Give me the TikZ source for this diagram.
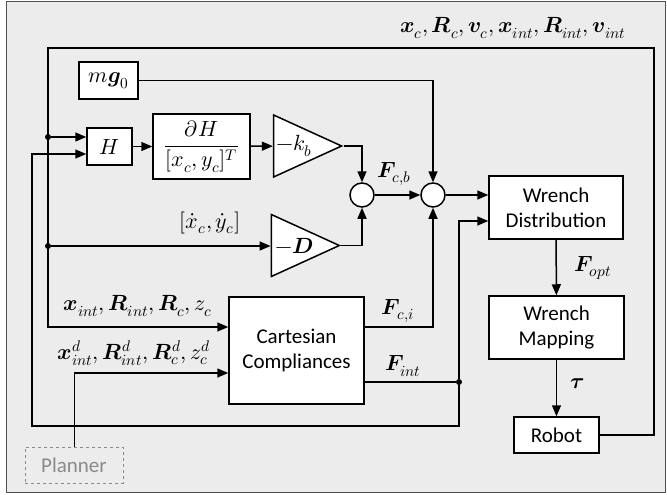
\documentclass[tikz,border=0pt]{standalone}
\usepackage{amsmath}
\usepackage{fontspec}
\usepackage{unicode-math}
\setmainfont{Carlito}
\setmathfont{Latin Modern Math}
\usepackage{xcolor}
\usepackage{tikz}
\usetikzlibrary{shapes.geometric, arrows.meta, positioning}

\definecolor{bgcol}{HTML}{ECECEC}
\definecolor{framecol}{HTML}{505050}
\definecolor{plannercol}{HTML}{8A8A8A}

\begin{document}
\begin{tikzpicture}[
    x=1pt, y=-1pt,
    font=\fontsize{21}{25}\selectfont,
    mathfont/.style={font=\fontsize{22}{25}\selectfont},
    box/.style={rectangle, draw=black, fill=white, line width=1.5pt, align=center, inner sep=2pt},
    gain/.style={isosceles triangle, isosceles triangle stretches, shape border rotate=0, draw=black, fill=white, line width=1.5pt, inner sep=1pt, minimum width=62pt, minimum height=68pt, mathfont},
    sumnode/.style={circle, draw=black, fill=white, line width=1.5pt, minimum size=24pt, inner sep=0pt},
    dot/.style={circle, fill=black, inner sep=0pt, minimum size=6pt},
    arrow/.style={-{Triangle[length=11pt,width=9pt]}, line width=1.5pt},
    line/.style={line width=1.5pt}
]

\useasboundingbox (0,0) rectangle (667,495);
\draw[fill=bgcol, draw=framecol, line width=1pt] (6,2) rectangle (665,492);

% blocks
\node[box, mathfont, minimum width=59pt, minimum height=37pt] (mg) at (108.5,80.5) {$m\symbfit{g}_0$};
\node[box, mathfont, minimum width=45pt, minimum height=37pt] (H) at (109.5,146.5) {$H$};
\node[box, mathfont, minimum width=97pt, minimum height=65pt, inner sep=0pt] (dH) at (201.5,146.5) {$\dfrac{\partial H}{[x_c, y_c]^T}$};
\node[gain] (kb) at (294,146) {$-k_b$};
\node[gain] (D) at (294,245.5) {$-\symbfit{D}$};
\node[sumnode] (s1) at (362,195) {};
\node[sumnode] (s2) at (433,195) {};
\node[box, minimum width=134pt, minimum height=63pt] (wd) at (556,207.5) {Wrench\\Distribution};
\node[box, minimum width=135pt, minimum height=107pt] (cc) at (296.5,350.5) {Cartesian\\Compliances};
\node[box, minimum width=135pt, minimum height=63pt] (wm) at (556.5,327.5) {Wrench\\Mapping};
\node[box, minimum width=85pt, minimum height=36pt] (robot) at (556.5,435) {Robot};
\node[rectangle, draw=plannercol, dashed, line width=1pt, text=plannercol, minimum width=98pt, minimum height=36pt] (planner) at (74,465) {Planner};

% helper points
\coordinate (tl) at (48,48);
\coordinate (tr) at (654,48);
\coordinate (ci1) at (48,327);
\node[dot] (j1) at (48,137) {};
\node[dot] (j2) at (48,246) {};
\node[dot] (jf) at (459,382) {};
\coordinate (wi2) at (459,221);
\coordinate (hin) at (32,154);
\coordinate (jb) at (459,426);
\coordinate (pin) at (74,373);

% connectors
\draw[arrow] (robot.east) -| (tr) -- (tl) -- (ci1) -- (ci1 -| cc.west);
\draw[arrow] (j1) -- (j1 -| H.west);
\draw[arrow] (j2) -- (j2 -| D.west);
\draw[arrow] (H) -- (dH);
\draw[arrow] (dH) -- (kb);
\draw[arrow] (kb.apex) -| (s1);
\draw[arrow] (D.apex) -| (s1);
\draw[arrow] (s1) -- (s2);
\draw[arrow] (mg) -| (s2);
\draw[arrow] (s2) -- (s2 -| wd.west);
\draw[arrow] (cc.east |- ci1) -| (s2);
\draw[line] (cc.east |- jf) -- (jf);
\draw[arrow] (jf) -- (wi2) -- (wi2 -| wd.west);
\draw[arrow] (jf) -- (jb) -- (jb -| hin) -- (hin) -- (hin -| H.west);
\draw[line width=0.8pt] (planner) -- (pin);
\draw[arrow] (pin) -- (pin -| cc.west);
\draw[arrow] (wd) -- (wm);
\draw[arrow] (wm) -- (robot);

% labels
\node[mathfont] (lstate) at (513,28) {$\symbfit{x}_c, \symbfit{R}_c, \symbfit{v}_c, \symbfit{x}_{int}, \symbfit{R}_{int}, \symbfit{v}_{int}$};
\node[mathfont] (lfcb) at (394,174) {$\symbfit{F}_{c,b}$};
\node[mathfont] (lvel) at (210,223) {$[\dot{x}_c, \dot{y}_c]$};
\node[mathfont] (lmeas) at (138,306) {$\symbfit{x}_{int}, \symbfit{R}_{int}, \symbfit{R}_c, z_c$};
\node[mathfont] (ldes) at (134,353) {$\symbfit{x}_{int}^d, \symbfit{R}_{int}^d, \symbfit{R}_c^d, z_c^d$};
\node[mathfont] (lfci) at (398,311) {$\symbfit{F}_{c,i}$};
\node[mathfont] (lfint) at (403,366) {$\symbfit{F}_{int}$};
\node[mathfont] (lfopt) at (593,268) {$\symbfit{F}_{opt}$};
\node[mathfont] (ltau) at (577,384) {$\symbfit{\tau}$};

\end{tikzpicture}
\end{document}
